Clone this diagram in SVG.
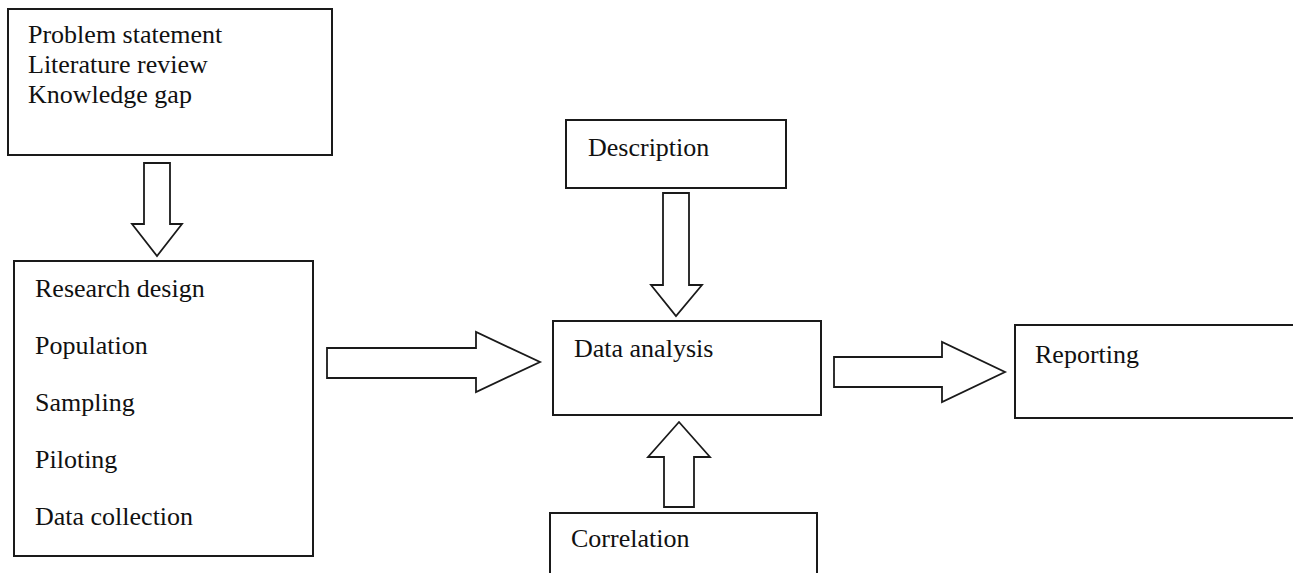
<svg xmlns="http://www.w3.org/2000/svg" width="1293" height="573" viewBox="0 0 1293 573">
<style>
.box{fill:#fff;stroke:#1a1a1a;stroke-width:2}
.arr{fill:#fff;stroke:#1a1a1a;stroke-width:1.8;stroke-linejoin:miter}
text{font-family:"Liberation Serif","Times New Roman",serif;font-size:26px;fill:#111}
</style>
<rect width="1293" height="573" fill="#fff"/>
<g id="node-problem">
<rect class="box" x="8" y="9" width="324" height="146"/>
<text x="28" y="43">Problem statement</text>
<text x="28" y="73">Literature review</text>
<text x="28" y="103">Knowledge gap</text>
</g>
<g id="node-research">
<rect class="box" x="14" y="261" width="299" height="295"/>
<text x="35" y="297">Research design</text>
<text x="35" y="354">Population</text>
<text x="35" y="411">Sampling</text>
<text x="35" y="468">Piloting</text>
<text x="35" y="525">Data collection</text>
</g>
<g id="node-description">
<rect class="box" x="566" y="120" width="220" height="68"/>
<text x="588" y="156">Description</text>
</g>
<g id="node-analysis">
<rect class="box" x="553" y="321" width="268" height="94"/>
<text x="574" y="357">Data analysis</text>
</g>
<g id="node-correlation">
<rect class="box" x="550" y="513" width="267" height="70"/>
<text x="571" y="547">Correlation</text>
</g>
<g id="node-reporting">
<rect class="box" x="1015" y="325" width="290" height="93"/>
<text x="1035" y="363">Reporting</text>
</g>
<g id="connectors">
<polygon class="arr" points="144,163 170,163 170,224 182,224 157,256 132,224 144,224"/>
<polygon class="arr" points="327,348 476,348 476,332 540,362 476,392 476,378 327,378"/>
<polygon class="arr" points="663,193 689,193 689,285 702,285 676,316 651,285 663,285"/>
<polygon class="arr" points="664,507 694,507 694,457 710,457 679,422 648,457 664,457"/>
<polygon class="arr" points="834,357 942,357 942,342 1005,372 942,402 942,387 834,387"/>
</g>
</svg>
